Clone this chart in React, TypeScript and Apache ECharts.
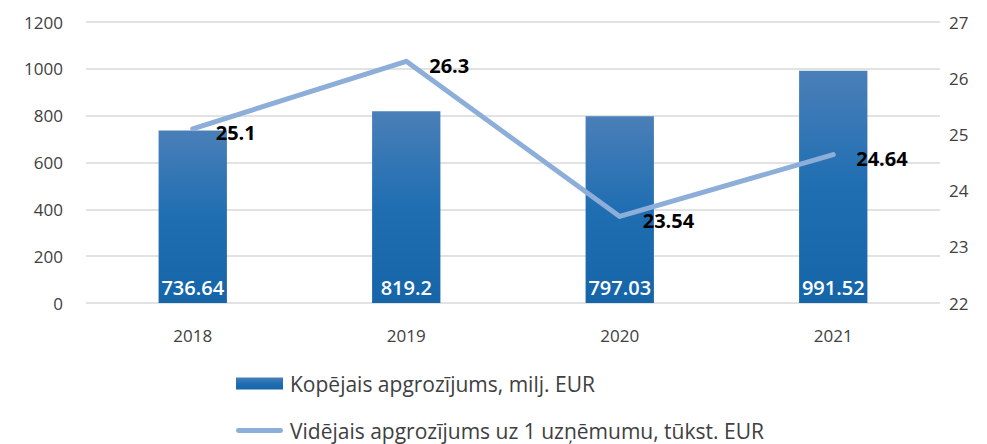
import React, { useEffect, useRef } from "react";
import * as echarts from "echarts";

const categories = ["2018", "2019", "2020", "2021"];
const totalTurnover = [736.64, 819.2, 797.03, 991.52];
const avgTurnover = [25.1, 26.3, 23.54, 24.64];
const barName = "Kopējais apgrozījums, milj. EUR";
const lineName = "Vidējais apgrozījums uz 1 uzņēmumu, tūkst. EUR";

const FONT = "'Open Sans', 'Noto Sans', sans-serif";

export default function App() {
  const ref = useRef<HTMLDivElement>(null);
  useEffect(() => {
    const chart = echarts.init(ref.current!, null, { renderer: "svg" });
    chart.setOption({
      animation: false,
      textStyle: { fontFamily: FONT },
      grid: { left: 86, right: 47, top: 22, bottom: 141 },
      legend: {
        orient: "vertical",
        left: 236,
        top: 373,
        height: 120,
        width: 700,
        padding: 0,
        itemGap: 26,
        itemWidth: 47,
        itemHeight: 12,
        textStyle: { fontSize: 21, color: "#404040", fontFamily: FONT, padding: [0, 0, 0, 2] },
        data: [
          { name: barName, icon: "rect" },
          { name: lineName, icon: "path://M2,0 H46 A2.5,2.5 0 0 1 46,5 H2 A2.5,2.5 0 0 1 2,0 Z", itemStyle: { color: "#8DAED9" } },
        ],
      },
      xAxis: {
        type: "category",
        data: categories,
        axisLine: { show: false },
        axisTick: { show: false },
        axisLabel: { fontSize: 17, color: "#404040", margin: 24 },
      },
      yAxis: [
        {
          type: "value",
          min: 0,
          max: 1200,
          interval: 200,
          axisLine: { show: false },
          axisTick: { show: false },
          axisLabel: { fontSize: 17, color: "#404040", margin: 23, formatter: (v: number) => String(v) },
          splitLine: { lineStyle: { color: "#D9D9D9", width: 1.5 } },
        },
        {
          type: "value",
          min: 22,
          max: 27,
          interval: 1,
          axisLine: { show: false },
          axisTick: { show: false },
          axisLabel: { fontSize: 17, color: "#404040", margin: 9, formatter: (v: number) => String(v) },
          splitLine: { show: false },
        },
      ],
      series: [
        {
          name: barName,
          type: "bar",
          data: totalTurnover,
          barWidth: "32%",
          itemStyle: {
            color: new echarts.graphic.LinearGradient(0, 0, 0, 1, [
              { offset: 0, color: "#4A7FB8" },
              { offset: 0.5, color: "#1F6EB2" },
              { offset: 1, color: "#1565A8" },
            ]),
          },
          label: {
            show: true,
            position: "insideBottom",
            distance: 6,
            color: "#FFFFFF",
            fontSize: 20,
            fontWeight: 600,
            fontFamily: FONT,
          },
        },
        {
          name: lineName,
          type: "line",
          yAxisIndex: 1,
          data: avgTurnover,
          symbol: "circle",
          symbolSize: 4,
          itemStyle: { color: "#8DAED9" },
          lineStyle: { color: "#8DAED9", width: 5, cap: "round", join: "round" },
          label: {
            show: true,
            position: "right",
            distance: 21,
            offset: [0, 4],
            color: "#000000",
            fontSize: 20,
            fontWeight: "bold",
            fontFamily: FONT,
          },
          z: 3,
        },
      ],
    });
    return () => chart.dispose();
  }, []);
  return <div ref={ref} style={{ width: 987, height: 444, position: "absolute", left: 0, top: 0 }} />;
}
